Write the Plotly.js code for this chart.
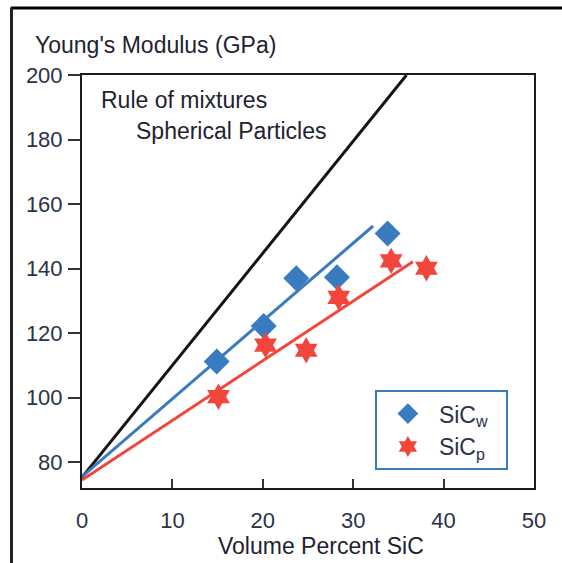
<!DOCTYPE html>
<html>
<head>
<meta charset="utf-8">
<script src="https://cdn.plot.ly/plotly-3.0.1.min.js"></script>
<style>html,body{margin:0;padding:0;background:#fff;} #chart{width:562px;height:563px;}</style>
</head>
<body>
<div id="chart"></div>
<script>
// Data
const sicwX = [14.9, 20.1, 23.7, 28.2, 33.8];
const sicwY = [111.2, 122.2, 137.0, 137.3, 150.9];
const sicpX = [15.1, 20.3, 24.8, 28.4, 34.2, 38.1];
const sicpY = [100.3, 116.3, 114.7, 131.1, 142.4, 140.1];
const ruleX = [0, 35.9];
const ruleY = [75.3, 200];
const sicwFitX = [0, 32.2];
const sicwFitY = [75.5, 153.2];
const sicpFitX = [0, 36.6];
const sicpFitY = [74.5, 142.1];
const xTicks = [0, 10, 20, 30, 40, 50];
const yTicks = [80, 100, 120, 140, 160, 180, 200];

const FONT = "Liberation Sans, Arial, sans-serif";
const TXT = "#2a3348";
const DARK = "#1e2330";
const BLUE = "#3a7bbf";
const RED = "#f2463c";

const traces = [
  {x: ruleX, y: ruleY, mode: "lines", line: {color: "#151515", width: 3}, showlegend: false, hoverinfo: "skip"},
  {x: sicwFitX, y: sicwFitY, mode: "lines", line: {color: BLUE, width: 3}, showlegend: false, hoverinfo: "skip"},
  {x: sicpFitX, y: sicpFitY, mode: "lines", line: {color: RED, width: 3}, showlegend: false, hoverinfo: "skip"},
  {x: sicwX, y: sicwY, mode: "markers", name: "SiC<sub>w</sub>&nbsp;&nbsp;",
   marker: {symbol: "diamond", size: 20, color: BLUE, line: {width: 0}}},
  {x: sicpX, y: sicpY, mode: "markers", name: "SiC<sub>p</sub>&nbsp;&nbsp;",
   marker: {symbol: "hexagram", size: 20, color: RED, line: {width: 0}}}
];

const layout = {
  width: 562, height: 563,
  margin: {l: 82, r: 28, t: 75, b: 75},
  paper_bgcolor: "#fff", plot_bgcolor: "#fff",
  font: {family: FONT, size: 22, color: TXT},
  xaxis: {
    range: [0, 50], tickvals: xTicks, ticktext: xTicks.map(String),
    ticks: "inside", ticklen: 9, tickwidth: 2, tickcolor: "#333",
    showline: true, linecolor: "#1a1a1a", linewidth: 2, mirror: true,
    showgrid: false, zeroline: false, ticklabelstandoff: 12,
    tickfont: {family: FONT, size: 22, color: TXT}
  },
  yaxis: {
    range: [72, 200], tickvals: yTicks, ticktext: yTicks.map(String),
    ticks: "outside", ticklen: 12, tickwidth: 2, tickcolor: "#333",
    showline: true, linecolor: "#1a1a1a", linewidth: 2, mirror: true,
    showgrid: false, zeroline: false, ticklabelstandoff: 1,
    tickfont: {family: FONT, size: 22, color: TXT}
  },
  legend: {
    x: 0.648, y: 0.237, xanchor: "left", yanchor: "top",
    bordercolor: BLUE, borderwidth: 2, bgcolor: "#fff",
    font: {family: FONT, size: 23, color: TXT},
    itemsizing: "trace", itemwidth: 52
  },
  annotations: [
    {xref: "paper", yref: "paper", x: -0.108, y: 1.073, xanchor: "left", yanchor: "middle",
     text: "Young's Modulus (GPa)", showarrow: false, font: {family: FONT, size: 23, color: DARK}},
    {xref: "x", yref: "y", x: 1.9, y: 192.2, xanchor: "left", yanchor: "middle",
     text: "Rule of mixtures", showarrow: false, font: {family: FONT, size: 23, color: DARK}},
    {xref: "x", yref: "y", x: 5.8, y: 182.6, xanchor: "left", yanchor: "middle",
     text: "Spherical Particles", showarrow: false, font: {family: FONT, size: 23, color: DARK}},
    {xref: "paper", yref: "paper", x: 0.528, y: -0.14, xanchor: "center", yanchor: "middle",
     text: "Volume Percent SiC", showarrow: false, font: {family: FONT, size: 23, color: DARK}}
  ],
  shapes: [
    {type: "line", xref: "paper", yref: "paper", x0: -0.158, x1: 1.1, y0: 1.162, y1: 1.162,
     line: {color: "#000", width: 3}},
    {type: "line", xref: "paper", yref: "paper", x0: -0.156, x1: -0.156, y0: 1.162, y1: -0.2,
     line: {color: "#222", width: 3}}
  ]
};

Plotly.newPlot("chart", traces, layout, {displayModeBar: false, staticPlot: true});
</script>
</body>
</html>
